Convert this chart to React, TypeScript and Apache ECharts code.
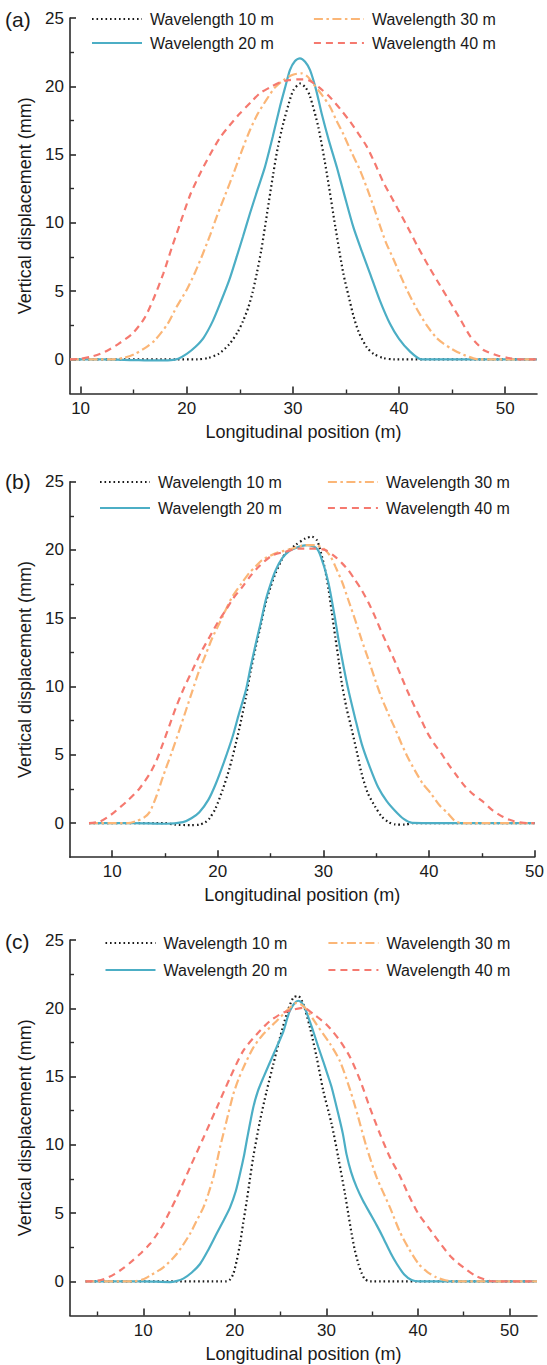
import React, { useEffect, useRef } from "react";
import * as echarts from "echarts";

// ---------- data ----------
const SERIES_NAMES = ["Wavelength 10 m", "Wavelength 20 m", "Wavelength 30 m", "Wavelength 40 m"];
const PANEL_LABELS = ["(a)", "(b)", "(c)"];
const X_NAME = "Longitudinal position (m)";
const Y_NAME = "Vertical displacement (mm)";
const X_RANGES = [[9, 53], [6, 50], [2, 53]];
const Y_RANGE = [-2.5, 25];
const X_MAJOR = [10, 20, 30, 40, 50];
const X_MINOR = [[15, 25, 35, 45], [15, 25, 35, 45], [5, 15, 25, 35, 45]];
const Y_MAJOR = [0, 5, 10, 15, 20, 25];
const Y_MINOR = [2.5, 7.5, 12.5, 17.5, 22.5];

// Panel (a)
const A_W10 = [[9,0],[19,0],[21,0],[22,0.1],[23,0.4],[24,1.1],[24.8,2.0],[25.3,2.8],[25.8,3.8],[26.2,4.9],[26.6,6.3],[27,7.9],[27.37,9.7],[28.15,13.6],[28.6,15.6],[29.1,17.3],[29.6,18.7],[30.04,19.7],[30.7,20.2],[31.2,19.9],[31.6,19.3],[32.4,17.0],[33.2,13.6],[34.0,9.7],[34.75,6.3],[35.26,4.6],[35.7,3.2],[36.2,2.0],[36.95,0.9],[37.6,0.4],[38.5,0.1],[39.5,0],[53,0]];
const A_W20 = [[9,0],[12,0],[15,-0.05],[17,-0.08],[18.5,-0.05],[19.2,0.05],[20,0.4],[20.8,0.9],[21.6,1.6],[22.45,2.8],[23.2,4.2],[24,5.8],[24.7,7.5],[25.3,9],[25.96,10.7],[26.7,12.5],[27.37,14.1],[28.1,16.3],[28.78,18.5],[29.3,20],[29.73,21.2],[30.2,21.85],[30.67,22.05],[31.15,21.8],[31.61,21.2],[32.2,19.7],[32.71,18.0],[33.4,16],[34.13,14.1],[34.9,11.9],[35.69,9.7],[36.5,7.9],[37.26,6.3],[38.2,4.3],[39.15,2.6],[40,1.5],[41,0.6],[42.1,0],[45,0],[53,0]];
const A_W30 = [[9,0],[13,0],[14,0.1],[15,0.35],[16.2,0.9],[17,1.4],[18.2,2.6],[19.05,3.85],[20,5.1],[20.8,6.4],[21.5,7.7],[22.2,9.1],[22.8,10.4],[23.6,12],[24.4,13.6],[25.2,15.3],[25.96,16.8],[26.7,18],[27.5,19.0],[28.3,19.9],[29.1,20.45],[30,20.85],[30.8,20.95],[31.4,20.7],[31.9,20.2],[32.7,19.4],[33.5,18.5],[34.1,17.5],[34.75,16.5],[35.5,15.2],[36.3,13.9],[37,12.5],[37.6,11.2],[38.2,9.8],[38.8,8.5],[39.5,7.3],[40.1,6.2],[40.8,5.0],[41.6,3.8],[42.6,2.5],[43.5,1.6],[44.2,1.15],[45,0.75],[45.8,0.43],[47,0.07],[47.5,0],[53,0]];
const A_W40 = [[9,0],[10,0.05],[11,0.2],[12.3,0.55],[13.5,1.1],[14.9,1.9],[16,3.0],[16.8,4.3],[17.8,6.3],[18.6,8.2],[19.4,10],[20.3,12],[21.25,13.6],[22.2,15],[23.1,16.2],[24,17.1],[25,18],[26,18.8],[26.9,19.5],[27.8,19.9],[28.8,20.3],[29.6,20.45],[30.4,20.5],[31,20.5],[31.6,20.4],[32.5,19.9],[33.5,19.2],[34.5,18.3],[35.4,17.4],[36.2,16.5],[36.95,15.6],[37.7,14.4],[38.5,13.0],[39.2,12.0],[39.9,11.0],[40.8,9.7],[41.8,8.2],[42.8,6.8],[43.8,5.5],[44.8,4.2],[45.8,2.9],[46.7,1.7],[47.4,1.1],[48.0,0.67],[49.2,0.3],[50.2,0.12],[51.4,0],[53,0]];

// Panel (b)
const B_W10 = [[7.8,0],[15,0],[16,-0.12],[17.5,-0.15],[18.25,-0.12],[18.8,0.05],[19.2,0.32],[19.8,1.1],[20.44,2.4],[21.1,4],[21.7,5.8],[22.2,7.5],[22.65,9.2],[23.1,11.1],[23.6,12.9],[24.1,14.6],[24.53,16.1],[25,17.3],[25.47,18.3],[26,19.2],[26.4,19.75],[27.36,20.36],[28.3,20.85],[28.92,20.97],[29.4,20.7],[29.87,19.5],[30.2,18.4],[30.5,17.06],[30.8,15.4],[31.13,13.6],[31.45,11.9],[31.75,10.2],[32.2,8.4],[32.7,6.8],[33.2,5.1],[33.63,3.6],[34.2,2.2],[34.9,1.2],[35.5,0.5],[36.15,0.07],[36.8,-0.1],[37.7,-0.12],[38.5,0],[50,0]];
const B_W20 = [[7.8,0],[12,0],[15,-0.05],[16.7,0.07],[17.5,0.35],[18.25,0.8],[19.1,1.7],[19.82,2.9],[20.6,4.5],[21.39,6.3],[22,8],[22.65,9.7],[23.1,11.4],[23.6,13.15],[24.1,14.8],[24.53,16.3],[25,17.5],[25.47,18.5],[26.1,19.4],[26.73,19.9],[27.4,20.15],[27.98,20.3],[28.5,20.35],[28.92,20.3],[29.3,20.15],[29.55,19.9],[29.85,19.3],[30.18,18.5],[30.5,17.5],[30.8,16.3],[31.1,15],[31.44,13.4],[31.9,11.5],[32.38,9.7],[33,7.7],[33.63,5.8],[34.4,4.1],[35.2,2.6],[36,1.6],[36.78,0.9],[37.6,0.3],[38.4,0.02],[42,0],[50,0]];
const B_W30 = [[7.8,0],[11.5,0],[12.3,0.15],[13,0.4],[13.54,0.8],[14.2,2],[14.79,3.37],[15.6,5.1],[16.36,6.8],[17,8.3],[17.6,9.7],[18.2,11.1],[18.88,12.4],[19.5,13.6],[20.13,14.6],[20.8,15.7],[21.39,16.6],[22.2,17.5],[22.96,18.3],[23.6,18.8],[24.2,19.26],[25.47,19.75],[27.04,20.1],[28.3,20.36],[29.24,20.36],[29.8,20.2],[30.18,20.0],[30.7,19.5],[31.13,18.8],[31.8,17.6],[32.38,16.3],[33,14.9],[33.63,13.4],[34.3,11.9],[34.9,10.5],[35.5,9.2],[36.15,8.0],[36.8,6.9],[37.4,5.8],[38,4.8],[38.66,3.86],[39.4,2.9],[40.2,2.15],[41,1.3],[41.8,0.7],[42.4,0.2],[43,0],[50,0]];
const B_W40 = [[7.8,0],[8.8,0.1],[9.5,0.4],[10.2,0.8],[11.4,1.6],[12.55,2.5],[13.54,3.6],[14.2,4.6],[14.79,5.8],[15.4,7.1],[16.05,8.5],[16.8,9.9],[17.6,11.2],[18.4,12.5],[19.2,13.6],[20,14.7],[20.76,15.6],[21.5,16.5],[22.33,17.3],[23.1,18.1],[23.9,18.8],[25.15,19.6],[26.4,19.87],[27.67,20.1],[29.24,20.1],[30.18,20.0],[31.13,19.5],[31.8,19.0],[32.38,18.5],[33,17.8],[33.63,17.06],[34.3,16.1],[34.9,15.1],[35.5,14.0],[36.15,12.9],[36.8,11.8],[37.4,10.7],[38,9.6],[38.66,8.5],[39.3,7.5],[39.9,6.55],[40.5,5.8],[41.17,5.1],[41.8,4.35],[42.6,3.5],[43.4,2.7],[44.2,2.1],[45.06,1.6],[46,0.95],[47.04,0.44],[48,0.15],[49.3,0],[50,0]];

// Panel (c)
const C_W10 = [[3.7,0],[18.5,0],[19.1,0],[19.5,0.15],[19.83,0.54],[20.2,1.5],[20.56,2.74],[20.9,4.2],[21.3,5.9],[21.65,7.5],[22.0,9.07],[22.75,11.76],[23.48,13.95],[24.2,15.9],[24.93,17.85],[25.66,19.56],[26.38,20.78],[26.93,20.9],[27.48,20.3],[28.2,18.6],[28.94,16.4],[29.66,13.95],[30.58,11.5],[31.3,9.07],[32.03,6.4],[32.4,4.9],[32.76,3.47],[33.1,2.3],[33.5,1.27],[33.85,0.6],[34.2,0.17],[34.76,0],[53,0]];
const C_W20 = [[3.7,0],[10,0],[12.92,-0.05],[13.6,0.02],[14.37,0.2],[15.3,0.65],[16.2,1.27],[17.1,2.3],[18.02,3.5],[18.8,4.5],[19.47,5.4],[20.1,6.6],[20.56,7.86],[21,9.2],[21.3,10.3],[22.0,12.7],[22.5,13.9],[23.1,14.9],[24.2,16.6],[25.3,18.3],[25.7,19.2],[26.0,19.8],[26.5,20.35],[26.93,20.55],[27.3,20.4],[27.66,20.0],[28.1,19.2],[28.57,18.3],[29.1,17.2],[29.66,16.1],[30.1,15.2],[30.58,14.2],[31.3,12.25],[31.8,10.8],[32.2,9.3],[32.7,8.0],[33.3,6.9],[34,5.9],[34.75,5.0],[35.5,4.1],[36.2,3.2],[37,2.1],[37.7,1.27],[38.5,0.5],[39.3,0.1],[40.1,0],[53,0]];
const C_W30 = [[3.7,0],[9,0],[10,0.15],[10.74,0.42],[12.2,1.03],[13.65,2.0],[15.1,3.47],[15.8,4.4],[16.56,5.4],[17.1,6.4],[17.65,7.6],[18.38,9.8],[19.1,11.76],[19.83,13.7],[20.4,14.8],[20.93,15.65],[22.0,17.1],[23.1,18.1],[24.57,19.07],[26.0,20.04],[26.76,20.4],[27.3,20.25],[27.85,19.9],[28.94,18.8],[30.4,17.4],[31.5,16.1],[32.6,14.0],[33.4,12.2],[34.4,9.8],[35.5,7.6],[36.95,5.4],[38.04,3.6],[39,2.4],[40.05,1.3],[41,0.7],[42,0.3],[43,0.08],[43.9,0],[53,0]];
const C_W40 = [[3.7,0],[4.5,0.02],[5.4,0.1],[6.2,0.3],[6.9,0.55],[7.9,1.0],[8.8,1.5],[9.8,2.1],[10.74,2.75],[11.5,3.45],[12.2,4.2],[13.65,6.15],[15.1,8.34],[16.56,10.5],[18.02,12.7],[19.47,14.9],[20.93,16.9],[22.4,18.1],[23.84,19.07],[25.3,19.68],[26.4,19.9],[27.5,20.04],[28.6,19.56],[30.03,18.8],[31.5,17.6],[32.6,16.4],[33.7,14.7],[34.76,12.7],[35.85,10.8],[36.95,9.07],[38.04,7.7],[39,6.3],[40,5.0],[41.2,3.9],[42.3,2.9],[43.6,1.8],[45,1.0],[46.3,0.4],[47.7,0.05],[48.5,0],[53,0]];

const PANELS = [
  [A_W10, A_W20, A_W30, A_W40],
  [B_W10, B_W20, B_W30, B_W40],
  [C_W10, C_W20, C_W30, C_W40],
];

// ---------- layout / style ----------
const FONT = "'Liberation Sans', Arial, Helvetica, sans-serif";
const GRID_LEFT = 70;
const GRID_WIDTH = 467;
const GRID_TOPS = [18, 481.7, 940];
const GRID_HEIGHT = 375.5;
const LEGEND_ROW_TOPS = [[11, 35], [474, 500], [935, 962]];
const LEGEND_LEFTS = [91, 99, 104.5];
const LEGEND_GAPS = [39, 45, 40];
const LABEL_TOPS = [9, 471, 931];
const AXIS_COLOR = "#2b2b2b";

const LINE_STYLES = [
  { color: "#1a1a1a", width: 2.2, type: [1.6, 2.9] as any, cap: "butt" },
  { color: "#4CAEC5", width: 2.2, type: "solid" },
  { color: "#FBB677", width: 2.2, type: [9, 3.5, 2.5, 3.5] as any },
  { color: "#F5796F", width: 2.2, type: [7, 5] as any },
];

export default function App() {
  const ref = useRef<HTMLDivElement>(null);
  useEffect(() => {
    if (!ref.current) return;
    const chart = echarts.init(ref.current, null, { renderer: "svg" });

    const grid: any[] = [];
    const xAxis: any[] = [];
    const yAxis: any[] = [];
    const series: any[] = [];
    const legend: any[] = [];
    const title: any[] = [];

    for (let p = 0; p < 3; p++) {
      grid.push({ left: GRID_LEFT, top: GRID_TOPS[p], width: GRID_WIDTH, height: GRID_HEIGHT });
      title.push({
        text: PANEL_LABELS[p], left: 5, top: LABEL_TOPS[p], padding: 0,
        textStyle: { fontFamily: FONT, fontSize: 21, fontWeight: "normal", color: "#1a1a1a" },
      });
    }
    // main axes
    for (let p = 0; p < 3; p++) {
      xAxis.push({
        type: "value", gridIndex: p, min: X_RANGES[p][0], max: X_RANGES[p][1],
        name: X_NAME, nameLocation: "middle", nameGap: 29,
        nameTextStyle: { fontFamily: FONT, fontSize: 18, color: "#1a1a1a" },
        axisLine: { show: true, onZero: false, lineStyle: { color: AXIS_COLOR, width: 1.6 } },
        axisTick: { show: true, inside: true, length: 7, customValues: X_MAJOR, lineStyle: { color: AXIS_COLOR, width: 1.6 } },
        axisLabel: { customValues: X_MAJOR, margin: 6, fontFamily: FONT, fontSize: 17, color: "#1a1a1a" },
        splitLine: { show: false },
      });
      yAxis.push({
        type: "value", gridIndex: p, min: Y_RANGE[0], max: Y_RANGE[1],
        name: Y_NAME, nameLocation: "middle", nameGap: 31,
        nameTextStyle: { fontFamily: FONT, fontSize: 18, color: "#1a1a1a" },
        axisLine: { show: true, onZero: false, lineStyle: { color: AXIS_COLOR, width: 1.6 } },
        axisTick: { show: true, inside: true, length: 6, customValues: Y_MAJOR, lineStyle: { color: AXIS_COLOR, width: 1.6 } },
        axisLabel: { customValues: Y_MAJOR, margin: 6, fontFamily: FONT, fontSize: 17, color: "#1a1a1a" },
        splitLine: { show: false },
      });
    }
    // minor-tick overlay axes
    for (let p = 0; p < 3; p++) {
      xAxis.push({
        type: "value", gridIndex: p, min: X_RANGES[p][0], max: X_RANGES[p][1], position: "bottom",
        axisLine: { show: false, onZero: false },
        axisTick: { show: true, inside: true, length: 4, customValues: X_MINOR[p], lineStyle: { color: AXIS_COLOR, width: 1.4 } },
        axisLabel: { show: false },
        splitLine: { show: false },
      });
      yAxis.push({
        type: "value", gridIndex: p, min: Y_RANGE[0], max: Y_RANGE[1], position: "left",
        axisLine: { show: false, onZero: false },
        axisTick: { show: true, inside: true, length: 4, customValues: Y_MINOR, lineStyle: { color: AXIS_COLOR, width: 1.4 } },
        axisLabel: { show: false },
        splitLine: { show: false },
      });
    }

    for (let p = 0; p < 3; p++) {
      PANELS[p].forEach((data, i) => {
        series.push({
          name: SERIES_NAMES[i], type: "line", xAxisIndex: p, yAxisIndex: p,
          data, showSymbol: false, symbol: "none", smooth: 0.25,
          lineStyle: LINE_STYLES[i], itemStyle: { color: LINE_STYLES[i].color },
          z: 2 + i, silent: true,
        });
      });
      const rows = [[SERIES_NAMES[0], SERIES_NAMES[2]], [SERIES_NAMES[1], SERIES_NAMES[3]]];
      rows.forEach((names, r) => {
        legend.push({
          data: names, left: LEGEND_LEFTS[p], top: LEGEND_ROW_TOPS[p][r], padding: 0,
          orient: "horizontal", itemGap: LEGEND_GAPS[p], itemWidth: 50, itemHeight: 14,
          selectedMode: false,
          itemStyle: { opacity: 0 },
          textStyle: { fontFamily: FONT, fontSize: 16, color: "#1a1a1a", padding: [0, 0, 0, 3] },
        });
      });
    }

    chart.setOption({
      animation: false,
      backgroundColor: "#ffffff",
      title, grid, xAxis, yAxis, series, legend,
    });
    return () => chart.dispose();
  }, []);

  return (
    <div
      ref={ref}
      style={{ position: "absolute", left: 0, top: 0, width: 547, height: 1365, background: "#fff" }}
    />
  );
}
